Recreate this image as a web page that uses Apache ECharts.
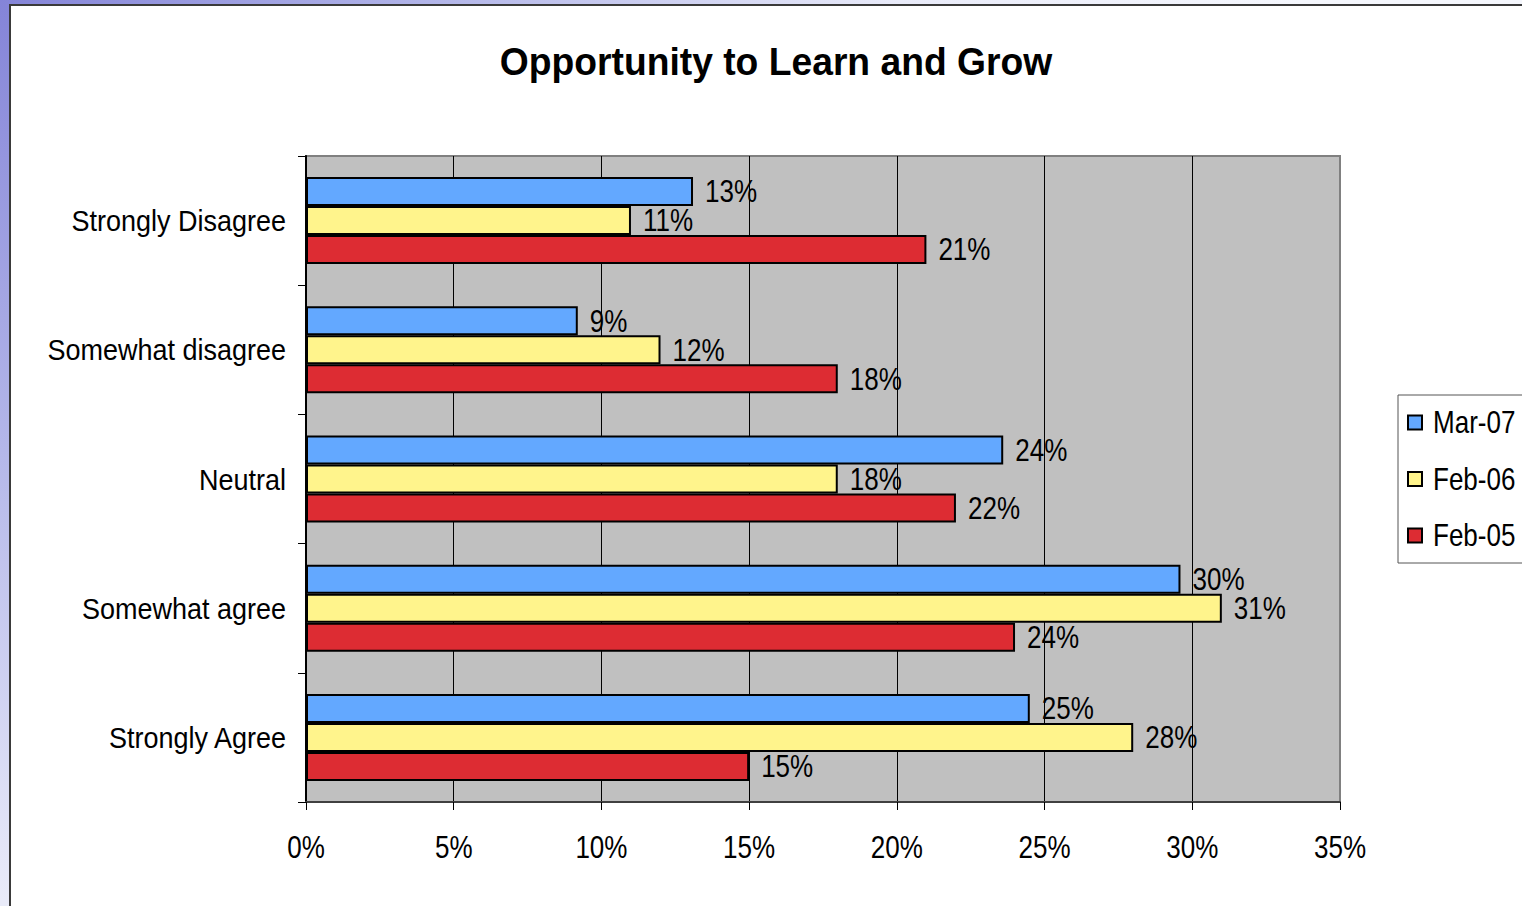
<!DOCTYPE html>
<html>
<head>
<meta charset="utf-8">
<script src="https://cdn.jsdelivr.net/npm/echarts@6/dist/echarts.min.js"></script>
<style>
  html, body { margin: 0; padding: 0; width: 1522px; height: 906px; overflow: hidden; }
  body {
    background: radial-gradient(circle at 0 0, #8484d8 0px, #b4b7e9 450px, #e9ebf9 900px, #f5f7fd 1300px);
  }
  #panel {
    position: absolute; left: 9px; top: 4px; width: 1540px; height: 940px;
    background: #ffffff; border-left: 2px solid #3a3a3a; border-top: 2px solid #3a3a3a;
  }
  #chart { position: absolute; left: 0; top: 0; width: 1522px; height: 906px; }
</style>
</head>
<body>
<div id="panel"></div>
<div id="chart"></div>
<script>
// Survey responses, percent of respondents
const categories = ['Strongly Disagree', 'Somewhat disagree', 'Neutral', 'Somewhat agree', 'Strongly Agree'];
const seriesNames = ['Mar-07', 'Feb-06', 'Feb-05'];
const mar07 = [13.1, 9.2, 23.6, 29.6, 24.5];
const feb06 = [11.0, 12.0, 18.0, 31.0, 28.0];
const feb05 = [21.0, 18.0, 22.0, 24.0, 15.0];
const colors = ['#63a8ff', '#fff48c', '#dd2c33'];

const FONT = '"Liberation Sans", Arial, sans-serif';

// Horizontal squeeze per font size, giving a narrow face
const NARROW = { 39: 0.955, 30: 0.9, 31: 0.84 };

function barSeries(name, data, color) {
  return {
    name: name,
    type: 'bar',
    data: data,
    barWidth: 29,
    barGap: '0%',
    itemStyle: { color: color, borderColor: '#000000', borderWidth: 2 },
    label: {
      show: true,
      position: 'right',
      distance: 12,
      color: '#000000',
      fontFamily: FONT,
      fontSize: 31,
      formatter: p => Math.round(p.value) + '%'
    },
    emphasis: { disabled: true }
  };
}

const chart = echarts.init(document.getElementById('chart'), null, { renderer: 'svg' });
chart.setOption({
  backgroundColor: 'transparent',
  animation: false,
  textStyle: { fontFamily: FONT },
  title: {
    text: 'Opportunity to Learn and Grow',
    left: 771,
    textAlign: 'center',
    top: 37,
    textStyle: { fontFamily: FONT, fontWeight: 'bold', fontSize: 39, color: '#000000' }
  },
  legend: {
    orient: 'vertical',
    left: 1398,
    top: 395,
    padding: [12, 12, 12, 9],
    itemWidth: 14,
    itemHeight: 14,
    itemGap: 25.5,
    icon: 'rect',
    borderColor: '#555555',
    borderWidth: 1,
    backgroundColor: '#ffffff',
    textStyle: { fontFamily: FONT, fontSize: 31, color: '#000000', padding: [0, 0, 0, 6] },
    data: seriesNames
  },
  grid: {
    left: 306, right: 182, top: 156, bottom: 104,
    show: true,
    backgroundColor: '#c0c0c0',
    borderColor: '#808080',
    borderWidth: 2
  },
  xAxis: {
    type: 'value',
    min: 0, max: 35, interval: 5,
    axisLine: { show: true, lineStyle: { color: '#404040', width: 2 } },
    axisTick: { show: true, length: 8, lineStyle: { color: '#000000' } },
    axisLabel: { margin: 30, color: '#000000', fontFamily: FONT, fontSize: 31, formatter: '{value}%' },
    splitLine: { show: true, showMinLine: false, showMaxLine: false, lineStyle: { color: '#000000', width: 1 } }
  },
  yAxis: {
    type: 'category',
    inverse: true,
    data: categories,
    axisLine: { show: true, lineStyle: { color: '#000000', width: 2 } },
    axisTick: { show: true, length: 8, lineStyle: { color: '#000000' } },
    axisLabel: { margin: 20, color: '#000000', fontFamily: FONT, fontSize: 30 }
  },
  series: [
    barSeries(seriesNames[0], mar07, colors[0]),
    barSeries(seriesNames[1], feb06, colors[1]),
    barSeries(seriesNames[2], feb05, colors[2])
  ]
});

// Squeeze every text horizontally about its own anchor point
chart.getZr().refreshImmediately();
document.querySelectorAll('#chart svg text').forEach(t => {
  const size = Math.round(parseFloat(getComputedStyle(t).fontSize));
  const k = NARROW[size] || 0.88;
  const x = parseFloat(t.getAttribute('x') || '0');
  const tr = t.getAttribute('transform') || '';
  t.setAttribute('transform', `${tr} translate(${x},0) scale(${k},1) translate(${-x},0)`.trim());
});
</script>
</body>
</html>
